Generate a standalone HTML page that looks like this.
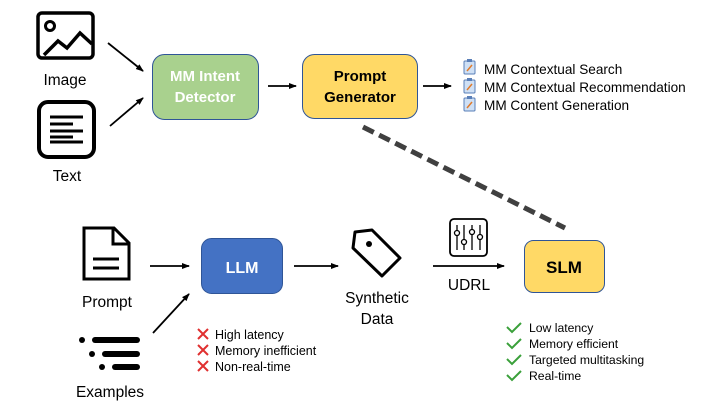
<!DOCTYPE html>
<html><head><meta charset="utf-8"><style>
body{margin:0;background:#fff}
svg{display:block;font-family:"Liberation Sans",sans-serif}
</style></head><body>
<svg width="720" height="405" viewBox="0 0 720 405" xmlns="http://www.w3.org/2000/svg">
<defs><marker id="a" markerWidth="8" markerHeight="8" refX="7" refY="4" orient="auto" markerUnits="userSpaceOnUse"><path d="M0,1 L8,4 L0,7z" fill="#000"/></marker></defs>
<rect x="38" y="13" width="55" height="45" rx="4" fill="none" stroke="#000" stroke-width="3.5"/>
<circle cx="50" cy="26" r="4.5" fill="none" stroke="#000" stroke-width="3"/>
<polyline points="44,55 58,41 67,48 80,33 92,44" fill="none" stroke="#000" stroke-width="3.5"/>
<text x="65" y="85" font-size="15.5" text-anchor="middle">Image</text>
<rect x="39" y="102" width="55" height="55" rx="9" fill="none" stroke="#000" stroke-width="4"/>
<g stroke="#000" stroke-width="3"><line x1="50" y1="117" x2="83" y2="117"/><line x1="50" y1="124" x2="73" y2="124"/><line x1="50" y1="131" x2="83" y2="131"/><line x1="50" y1="137" x2="73" y2="137"/><line x1="50" y1="142" x2="83" y2="142"/></g>
<text x="67" y="181" font-size="15.5" text-anchor="middle">Text</text>
<g stroke="#000" stroke-width="1.8" marker-end="url(#a)">
<line x1="108" y1="43" x2="143" y2="71"/><line x1="110" y1="126" x2="143" y2="98"/>
<line x1="268" y1="86" x2="296" y2="86"/><line x1="423" y1="86" x2="451" y2="86"/>
<line x1="150" y1="266" x2="189" y2="266"/><line x1="153" y1="333" x2="189" y2="294"/>
<line x1="294" y1="266" x2="338" y2="266"/><line x1="433" y1="266" x2="504" y2="266"/>
</g>
<rect x="152.5" y="54.5" width="106" height="65" rx="12" fill="#a9d18e" stroke="#2f5597" stroke-width="1"/>
<text x="205" y="81" font-size="15" font-weight="bold" fill="#fff" text-anchor="middle">MM Intent</text>
<text x="205" y="102" font-size="15" font-weight="bold" fill="#fff" text-anchor="middle">Detector</text>
<rect x="302.5" y="54.5" width="115" height="64" rx="12" fill="#ffd966" stroke="#2f5597" stroke-width="1"/>
<text x="360" y="81" font-size="15" font-weight="bold" text-anchor="middle">Prompt</text>
<text x="360" y="102" font-size="15" font-weight="bold" text-anchor="middle">Generator</text>
<g font-size="13.6">
<g><rect x="464" y="61" width="11" height="13" rx="1" fill="#cfe0f5" stroke="#5a7fb8"/><rect x="467" y="59" width="5" height="3" fill="#5a7fb8"/><line x1="467" y1="71" x2="472" y2="65" stroke="#e07a2a" stroke-width="1.5"/></g>
<g><rect x="464" y="80" width="11" height="13" rx="1" fill="#cfe0f5" stroke="#5a7fb8"/><rect x="467" y="78" width="5" height="3" fill="#5a7fb8"/><line x1="467" y1="90" x2="472" y2="84" stroke="#e07a2a" stroke-width="1.5"/></g>
<g><rect x="464" y="98" width="11" height="13" rx="1" fill="#cfe0f5" stroke="#5a7fb8"/><rect x="467" y="96" width="5" height="3" fill="#5a7fb8"/><line x1="467" y1="108" x2="472" y2="102" stroke="#e07a2a" stroke-width="1.5"/></g>
<text x="484" y="74">MM Contextual Search</text>
<text x="484" y="92">MM Contextual Recommendation</text>
<text x="484" y="110">MM Content Generation</text>
</g>
<line x1="363" y1="127" x2="565" y2="228" stroke="#404040" stroke-width="5" stroke-dasharray="12,6"/>
<path d="M84,228 H114 L129,243 V279 H84 Z" fill="none" stroke="#000" stroke-width="3"/>
<path d="M113,228 V244 H129" fill="none" stroke="#000" stroke-width="3"/>
<line x1="93" y1="259" x2="119" y2="259" stroke="#000" stroke-width="3"/>
<line x1="93" y1="268" x2="119" y2="268" stroke="#000" stroke-width="3"/>
<text x="107" y="307" font-size="15.5" text-anchor="middle">Prompt</text>
<g fill="#000"><circle cx="82" cy="340" r="3"/><circle cx="92" cy="354" r="3"/><circle cx="102" cy="367" r="3"/></g>
<g stroke="#000" stroke-width="6" stroke-linecap="round"><line x1="95" y1="340" x2="137" y2="340"/><line x1="105" y1="354" x2="137" y2="354"/><line x1="115" y1="367" x2="137" y2="367"/></g>
<text x="110" y="397" font-size="15.5" text-anchor="middle">Examples</text>
<rect x="201.5" y="238.5" width="81" height="55" rx="10" fill="#4472c4" stroke="#2f5597"/>
<text x="242" y="273" font-size="16" font-weight="bold" fill="#fff" text-anchor="middle">LLM</text>
<g stroke="#e03030" stroke-width="2"><path d="M198,329 l10,10 m0,-10 l-10,10"/><path d="M198,345 l10,10 m0,-10 l-10,10"/><path d="M198,361 l10,10 m0,-10 l-10,10"/></g>
<g font-size="12.5"><text x="215" y="339">High latency</text><text x="215" y="355">Memory inefficient</text><text x="215" y="371">Non-real-time</text></g>
<path d="M355,232 L372,230 L400,258 L382,276 L353,248 Z" fill="none" stroke="#000" stroke-width="3" stroke-linejoin="round"/>
<circle cx="369" cy="244" r="3" fill="#000"/>
<text x="377" y="303" font-size="15.5" text-anchor="middle">Synthetic</text>
<text x="377" y="324" font-size="15.5" text-anchor="middle">Data</text>
<rect x="450" y="219" width="37" height="37" rx="4" fill="none" stroke="#000" stroke-width="1.8"/>
<g stroke="#000" stroke-width="1.3" fill="#fff"><line x1="457" y1="225" x2="457" y2="250"/><line x1="464" y1="225" x2="464" y2="250"/><line x1="472" y1="225" x2="472" y2="250"/><line x1="480" y1="225" x2="480" y2="250"/>
<circle cx="457" cy="233" r="2.5"/><circle cx="464" cy="242" r="2.5"/><circle cx="472" cy="232" r="2.5"/><circle cx="480" cy="237" r="2.5"/></g>
<text x="469" y="290" font-size="15.5" text-anchor="middle">UDRL</text>
<rect x="524.5" y="240.5" width="80" height="52" rx="9" fill="#ffd966" stroke="#2f5597"/>
<text x="564" y="273" font-size="17" font-weight="bold" text-anchor="middle">SLM</text>
<g stroke="#3aa03a" stroke-width="2" fill="none"><path d="M507,327 l5,5 l9,-9"/><path d="M507,343 l5,5 l9,-9"/><path d="M507,359 l5,5 l9,-9"/><path d="M507,375 l5,5 l9,-9"/></g>
<g font-size="12.2"><text x="529" y="332">Low latency</text><text x="529" y="348">Memory efficient</text><text x="529" y="364">Targeted multitasking</text><text x="529" y="380">Real-time</text></g>
</svg>
</body></html>
